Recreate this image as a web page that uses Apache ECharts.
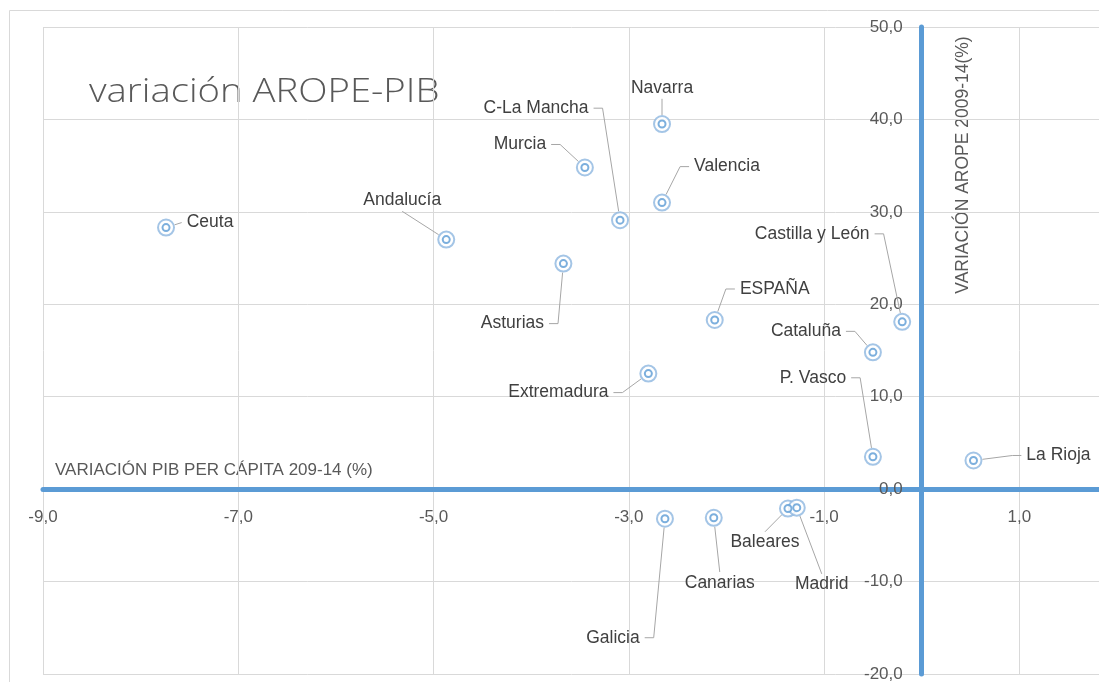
<!DOCTYPE html>
<html>
<head>
<meta charset="utf-8">
<script src="https://cdn.jsdelivr.net/npm/echarts@6/dist/echarts.min.js"></script>
<style>
html, body { margin: 0; padding: 0; background: #fff; }
#chart { width: 1099px; height: 682px; }
</style>
</head>
<body>
<div id="chart"></div>
<script>
// regiones y valores (PIB per cápita, AROPE)
const regiones = ['Ceuta', 'Andalucía', 'Murcia', 'C-La Mancha', 'Navarra', 'Valencia', 'Asturias', 'ESPAÑA',
  'Castilla y León', 'Cataluña', 'Extremadura', 'P. Vasco', 'La Rioja', 'Galicia', 'Canarias', 'Baleares', 'Madrid']
const pib = [-7.74, -4.87, -3.45, -3.09, -2.66, -2.66, -3.67, -2.12, -0.2, -0.5, -2.8, -0.5, 0.53, -2.63, -2.13, -1.37, -1.28]
const arope = [28.3, 27.0, 34.8, 29.1, 39.5, 31.0, 24.4, 18.3, 18.1, 14.8, 12.5, 3.5, 3.1, -3.2, -3.1, -2.1, -2.0]
const xTicks = { min: -9, max: 2, interval: 2 }
const yTicks = { min: -20, max: 50, interval: 10 }

// desplazamiento del centro de cada etiqueta respecto a su punto (px)
const labelOffsets = {
  'Ceuta': [44, -5],
  'Andalucía': [-44, -39],
  'Murcia': [-65, -23],
  'C-La Mancha': [-84, -112],
  'Navarra': [0, -36],
  'Valencia': [65, -36],
  'Asturias': [-51, 60],
  'ESPAÑA': [60, -31],
  'Castilla y León': [-90, -88],
  'Cataluña': [-67, -21],
  'Extremadura': [-90, 19],
  'P. Vasco': [-60, -79],
  'La Rioja': [85, -5],
  'Galicia': [-52, 119],
  'Canarias': [6, 65],
  'Baleares': [-23, 34],
  'Madrid': [25, 77]
}

const points = regiones.map((name, i) => {
  return { name: name, value: [pib[i], arope[i]] }
})

const fmt = (v) => v.toFixed(1).replace('.', ',')
const fontFam = '"Liberation Sans", "DejaVu Sans", sans-serif'
const labelSize = 17.5

const measureCtx = document.createElement('canvas').getContext('2d')
measureCtx.font = labelSize + 'px ' + fontFam

// etiqueta + línea guía estilo Excel (tramo horizontal corto y luego al punto)
function renderLabel (params, api) {
  const name = regiones[params.dataIndex]
  const o = labelOffsets[name]
  const p = api.coord([api.value(0), api.value(1)])
  const cx = p[0] + o[0]
  const cy = p[1] + o[1]
  const w = measureCtx.measureText(name).width
  const h = labelSize
  const left = cx - w / 2
  const right = cx + w / 2
  const r = 9
  const toEdge = (from) => {
    const d = Math.hypot(p[0] - from[0], p[1] - from[1])
    return [p[0] - (p[0] - from[0]) * r / d, p[1] - (p[1] - from[1]) * r / d]
  }
  let pts
  if (p[0] - right > 12) {
    const a = [right + 5, cy]
    const b = [right + 14, cy]
    pts = [a, b, toEdge(b)]
  } else if (left - p[0] > 12) {
    const a = [left - 5, cy]
    const b = [left - 14, cy]
    if (Math.hypot(p[0] - b[0], p[1] - b[1]) < r + 3) {
      pts = [a, toEdge(a)]
    } else {
      pts = [a, b, toEdge(b)]
    }
  } else {
    const a = [cx, p[1] > cy ? cy + h / 2 + 2 : cy - h / 2 - 2]
    pts = [a, toEdge(a)]
  }
  return {
    type: 'group',
    children: [
      {
        type: 'polyline',
        shape: { points: pts },
        style: { stroke: '#a6a6a6', lineWidth: 1, fill: null },
        silent: true
      },
      {
        type: 'text',
        x: cx,
        y: cy,
        style: { text: name, align: 'center', verticalAlign: 'middle', fill: '#404040', fontSize: labelSize, fontFamily: fontFam }
      }
    ]
  }
}

const chart = echarts.init(document.getElementById('chart'))
const option = {
  animation: false,
  textStyle: { fontFamily: fontFam },
  grid: { left: 43, top: 27, bottom: 8, right: -18, containLabel: false, outerBoundsMode: 'none' },
  xAxis: {
    type: 'value',
    min: xTicks.min,
    max: xTicks.max,
    interval: xTicks.interval,
    offset: 0,
    z: 3,
    axisLine: { onZero: false, lineStyle: { color: '#5b9bd5', width: 5 } },
    axisTick: { show: false },
    axisLabel: { formatter: fmt, color: '#595959', fontSize: 17, margin: 20, showMaxLabel: false },
    splitLine: { show: true, lineStyle: { color: '#d9d9d9', width: 1 } }
  },
  yAxis: {
    type: 'value',
    min: yTicks.min,
    max: yTicks.max,
    interval: yTicks.interval,
    offset: 0,
    z: 3,
    axisLine: { onZero: false, lineStyle: { color: '#5b9bd5', width: 5 } },
    axisTick: { show: false },
    axisLabel: { formatter: fmt, color: '#595959', fontSize: 17, margin: 19 },
    splitLine: { show: true, lineStyle: { color: '#d9d9d9', width: 1 } }
  },
  graphic: [
    {
      type: 'rect',
      shape: { x: 9.5, y: 10.5, width: 1200, height: 700 },
      style: { fill: 'none', stroke: '#d9d9d9', lineWidth: 1 },
      silent: true
    },
    {
      type: 'text',
      x: 89,
      y: 93,
      scaleX: 1.16,
      style: { text: 'variación AROPE-PIB', fill: '#595959', fontSize: 33, fontFamily: '"Open Sans", "Noto Sans", sans-serif', fontWeight: 300, verticalAlign: 'middle' }
    },
    {
      type: 'text',
      x: 55,
      y: 470,
      style: { text: 'VARIACIÓN PIB PER CÁPITA 209-14 (%)', fill: '#595959', fontSize: 17, fontFamily: fontFam, verticalAlign: 'middle' }
    },
    {
      type: 'text',
      x: 963,
      y: 165,
      rotation: Math.PI / 2,
      style: { text: 'VARIACIÓN AROPE 2009-14(%)', fill: '#595959', fontSize: 17.5, fontFamily: fontFam, align: 'center', verticalAlign: 'middle' }
    }
  ],
  series: [
    {
      type: 'scatter',
      data: points,
      symbol: 'emptyCircle',
      symbolSize: 16,
      z: 5,
      itemStyle: { color: '#8db7e0', borderWidth: 2 }
    },
    {
      type: 'scatter',
      data: points,
      symbol: 'emptyCircle',
      symbolSize: 7,
      z: 6,
      silent: true,
      itemStyle: { color: '#5b9bd5', borderWidth: 2 }
    },
    {
      type: 'custom',
      data: points,
      z: 7,
      renderItem: renderLabel
    }
  ]
}
chart.setOption(option)

// llevar los ejes al cruce (0,0) usando la escala de la propia librería
const zero = chart.convertToPixel({ gridIndex: 0 }, [0, 0])
const bottomPx = chart.convertToPixel({ yAxisIndex: 0 }, yTicks.min)
const leftPx = chart.convertToPixel({ xAxisIndex: 0 }, xTicks.min)
chart.setOption({
  xAxis: { offset: -(bottomPx - zero[1]) },
  yAxis: { offset: -(zero[0] - leftPx) }
})
</script>
</body>
</html>
